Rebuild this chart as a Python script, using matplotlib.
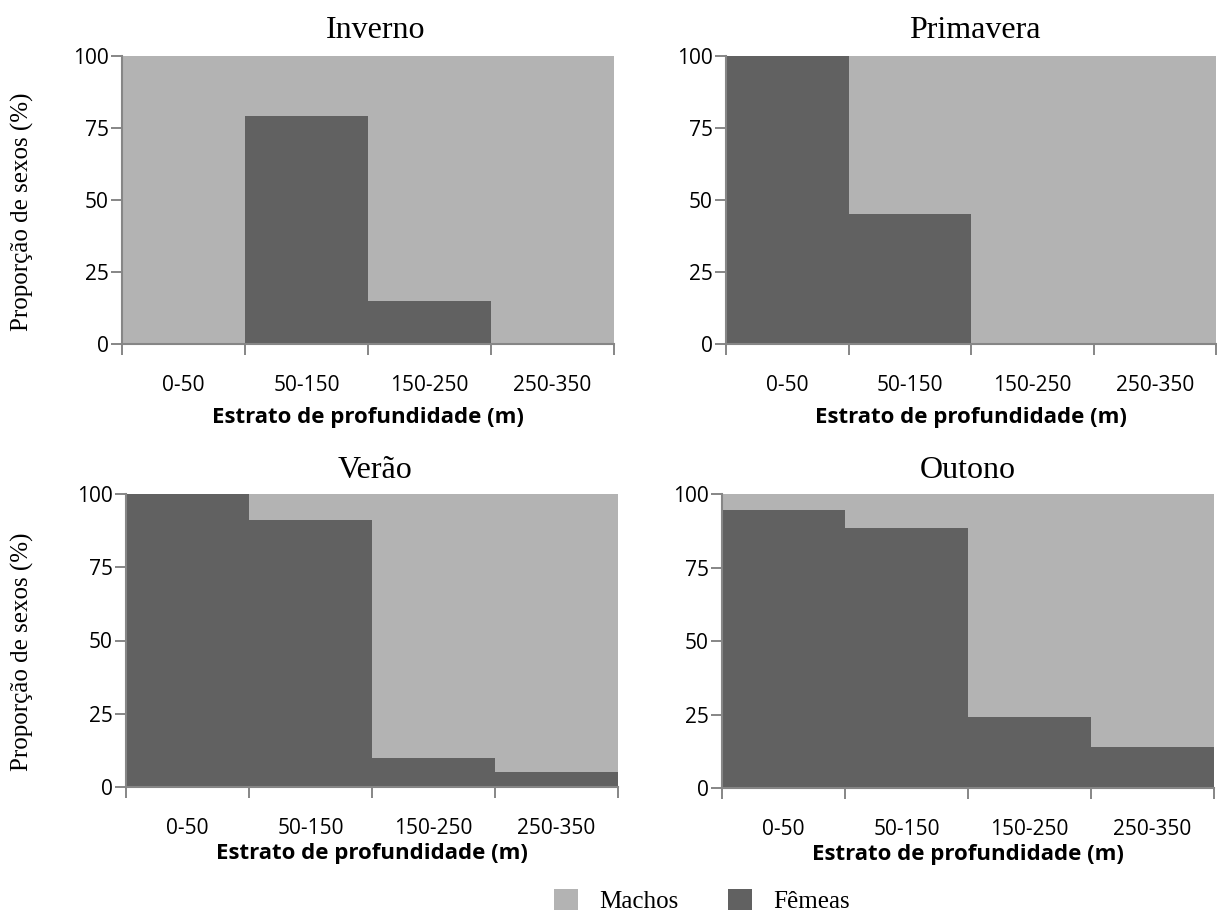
import numpy as np
import matplotlib
matplotlib.use("Agg")
import matplotlib.pyplot as plt
from matplotlib.patches import Patch

# estratos de profundidade e proporcao de femeas (%) por estacao
estratos = ["0-50", "50-150", "150-250", "250-350"]
estacoes = ["Inverno", "Primavera", "Verão", "Outono"]
femeas_inverno = [0, 79, 15, 0]
femeas_primavera = [100, 45, 0, 0]
femeas_verao = [100, 91, 10, 5]
femeas_outono = [94.5, 88.5, 24, 14]
femeas = [femeas_inverno, femeas_primavera, femeas_verao, femeas_outono]

cor_femeas = "#616161"
cor_machos = "#b3b3b3"
cor_eixo = "#868686"

W, H = 1217, 913
fig = plt.figure(figsize=(W / 100, H / 100), dpi=100)

# caixas dos eixos em pixels: esquerda, topo, direita, base
caixas = [(122, 56, 614, 344), (726, 56, 1216, 344),
          (126, 494, 618, 787), (722, 494, 1214, 788)]
pads_xlabel = [8, 8, 3, 3]
pads_titulo = [13, 13, 11.5, 11.5]
x_titulo = [376, 975, 375, 968]

serif = "Liberation Serif"
sans = "Open Sans"

for i, (nome, fem) in enumerate(zip(estacoes, femeas)):
    l, t, r, b = caixas[i]
    ax = fig.add_axes([l / W, 1 - b / H, (r - l) / W, (b - t) / H])
    x = np.arange(len(estratos))
    fem = np.array(fem)
    machos = 100 - fem
    ax.bar(x, fem, width=1.0, color=cor_femeas, linewidth=0)
    ax.bar(x, machos, width=1.0, bottom=fem, color=cor_machos, linewidth=0)
    ax.set_xlim(-0.5, len(estratos) - 0.5)
    ax.set_ylim(0, 100)
    ax.set_yticks([0, 25, 50, 75, 100])
    ax.set_xticks(x)
    ax.set_xticklabels(estratos)
    ax.set_xticks(np.arange(len(estratos) + 1) - 0.5, minor=True)
    ax.tick_params(axis="x", which="major", length=0, pad=22.5)
    ax.tick_params(axis="x", which="minor", length=8, width=1.4, color=cor_eixo)
    ax.tick_params(axis="y", length=8, width=1.4, color=cor_eixo, pad=1.5)
    for lab in ax.get_xticklabels() + ax.get_yticklabels():
        lab.set_fontfamily(sans)
        lab.set_fontsize(15)
    for s in ["top", "right"]:
        ax.spines[s].set_visible(False)
    for s in ["left", "bottom"]:
        ax.spines[s].set_color(cor_eixo)
        ax.spines[s].set_linewidth(1.5)
    ax.set_title(nome, fontfamily=serif, fontsize=23, pad=pads_titulo[i],
                 x=(x_titulo[i] - l) / (r - l))
    ax.set_xlabel("Estrato de profundidade (m)", fontfamily=sans,
                  fontweight="bold", fontsize=16, labelpad=pads_xlabel[i])

# rotulos do eixo y, um por linha
for yc in [212, 652]:
    fig.text(22 / W, 1 - yc / H, "Proporção de sexos (%)", rotation=90,
             ha="center", va="center", fontfamily=serif, fontsize=18)

handles = [Patch(facecolor=cor_machos, label="Machos"),
           Patch(facecolor=cor_femeas, label="Fêmeas")]
fig.legend(handles=handles, loc="center", bbox_to_anchor=(702 / W, 1 - 901 / H),
           ncol=2, frameon=False, prop={"family": serif, "size": 18},
           handlelength=0.95, handleheight=0.95, handletextpad=0.85,
           columnspacing=2.0, borderpad=0)

fig.savefig("out.png", dpi=100)
